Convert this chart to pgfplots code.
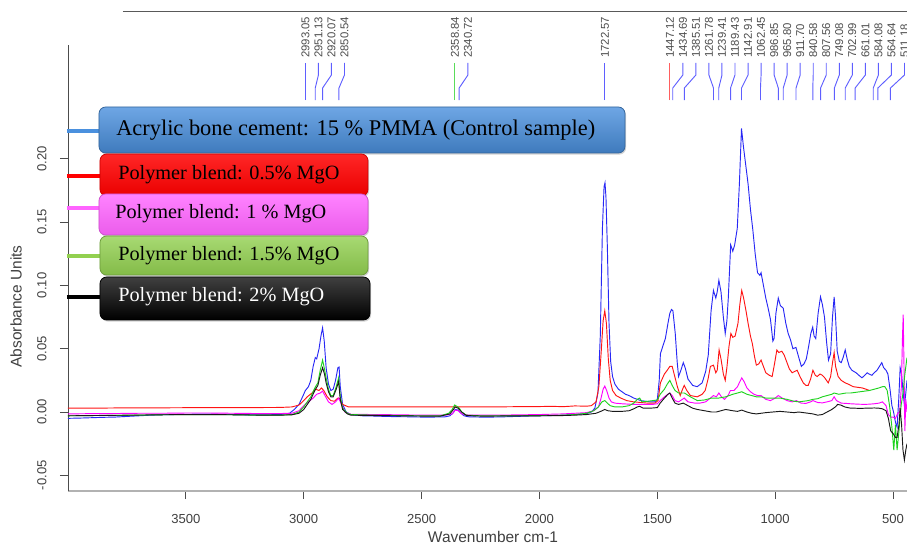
\documentclass[border=0pt]{standalone}
\usepackage{fontspec}
\setmainfont{Liberation Sans}
\newfontfamily\tnr{Liberation Serif}
\usepackage{pgfplots}
\pgfplotsset{compat=1.18}
\usetikzlibrary{shadows}

\definecolor{specblue}{RGB}{40,40,245}
\definecolor{specred}{RGB}{255,20,20}
\definecolor{specmag}{RGB}{255,0,255}
\definecolor{specgreen}{RGB}{30,210,30}
\definecolor{specblack}{RGB}{25,25,25}
\definecolor{pkblue}{RGB}{95,95,255}
\definecolor{pkred}{RGB}{255,95,95}
\definecolor{pkgreen}{RGB}{90,220,90}
\definecolor{legblue}{RGB}{74,144,222}
\definecolor{leggreen}{RGB}{146,208,80}
\definecolor{legmag}{RGB}{255,100,255}

\newcommand{\pkfont}{\fontsize{8.5}{9}\selectfont}
% peak marker: #1 peak, #2 label position, #3 colour
\newcommand{\pk}[3]{%
  \draw[#3, line width=0.7pt] (axis cs:#1,0.2464) -- (axis cs:#1,0.2559)
     -- (axis cs:#2,0.2662) -- (axis cs:#2,0.2757);
  \node[rotate=90, anchor=west, inner sep=0pt, font=\pkfont, text=black!70]
     at (axis cs:#2,0.2796) {#1};
}

\begin{document}
\begin{tikzpicture}
\begin{axis}[
  at={(0,0)}, anchor=south west,
  scale only axis, width=629.25pt, height=334.5pt,
  x dir=reverse, xmin=441, xmax=4000, ymin=-0.0624, ymax=0.2899,
  axis x line*=bottom, axis y line*=left,
  x axis line style={draw=black!30, line width=1.5pt},
  y axis line style={draw=black!70, line width=0.7pt},
  clip=false,
  tick align=outside, major tick length=6pt,
  every tick/.style={draw=black!70, line width=0.6pt},
  xtick={500,1000,1500,2000,2500,3000,3500},
  xticklabels={500,1000,1500,2000,2500,3000,3500},
  ytick={-0.05,0,0.05,0.1,0.15,0.2},
  yticklabels={-0.05,0.00,0.05,0.10,0.15,0.20},
  /pgf/number format/assume math mode=true,
  ticklabel style={font=\fontsize{9.8}{10}\selectfont, text=black!75},
  yticklabel style={rotate=90, anchor=south, inner sep=0pt},
  xticklabel style={anchor=north, inner sep=0pt},
  yticklabel shift=10pt, xticklabel shift=11pt,
  xlabel={Wavenumber cm-1}, ylabel={Absorbance Units},
  label style={font=\fontsize{11.6}{12}\selectfont, text=black!75},
  xlabel style={at={(axis description cs:0.5066,-0.1031)}, anchor=center},
  ylabel style={at={(axis description cs:-0.0620,0.414)}, anchor=center},
]
% control sample
\addplot[specblue, line width=0.7pt] coordinates {
(4000,-0.0050)(3950,-0.0048)(3900,-0.0045)(3850,-0.0042)(3800,-0.0040)(3750,-0.0035)
(3700,-0.0030)(3650,-0.0025)(3600,-0.0022)(3550,-0.0020)(3500,-0.0018)(3450,-0.0017)
(3400,-0.0016)(3350,-0.0018)(3300,-0.0020)(3250,-0.0022)(3200,-0.0022)(3150,-0.0022)
(3100,-0.0020)(3060,-0.0010)(3040,0.0020)(3020,0.0060)(3005,0.0120)(2993,0.0170)
(2980,0.0200)(2970,0.0250)(2960,0.0360)(2951,0.0430)(2945,0.0420)(2935,0.0500)
(2927,0.0600)(2920,0.0665)(2913,0.0560)(2905,0.0350)(2895,0.0220)(2885,0.0170)
(2875,0.0180)(2865,0.0250)(2855,0.0350)(2850,0.0355)(2845,0.0200)(2835,0.0060)
(2820,0.0000)(2800,-0.0020)(2750,-0.0030)(2700,-0.0032)(2650,-0.0035)(2600,-0.0037)
(2550,-0.0038)(2500,-0.0040)(2450,-0.0040)(2400,-0.0038)(2380,-0.0030)(2365,-0.0005)
(2358,0.0020)(2345,0.0015)(2335,-0.0005)(2320,-0.0030)(2300,-0.0038)(2250,-0.0040)
(2200,-0.0040)(2150,-0.0038)(2100,-0.0035)(2050,-0.0032)(2000,-0.0030)(1950,-0.0028)
(1900,-0.0025)(1850,-0.0020)(1800,-0.0012)(1780,0.0000)(1765,0.0030)(1752,0.0150)
(1742,0.0600)(1733,0.1450)(1726,0.1780)(1722,0.1810)(1718,0.1700)(1712,0.1300)
(1705,0.0700)(1698,0.0400)(1690,0.0280)(1680,0.0220)(1665,0.0180)(1650,0.0160)
(1635,0.0140)(1620,0.0130)(1600,0.0110)(1585,0.0100)(1570,0.0090)(1550,0.0085)
(1530,0.0080)(1510,0.0080)(1500,0.0100)(1492,0.0250)(1487,0.0460)(1475,0.0530)
(1466,0.0580)(1455,0.0700)(1447,0.0780)(1440,0.0810)(1434,0.0800)(1424,0.0620)
(1416,0.0400)(1410,0.0280)(1400,0.0330)(1390,0.0390)(1382,0.0350)(1370,0.0260)
(1350,0.0210)(1331,0.0200)(1310,0.0230)(1295,0.0320)(1284,0.0450)(1272,0.0800)
(1262,0.0960)(1252,0.0900)(1246,0.0950)(1239,0.1040)(1230,0.0950)(1220,0.0750)
(1212,0.0620)(1205,0.0720)(1199,0.0900)(1189,0.1320)(1180,0.1270)(1172,0.1320)
(1161,0.1450)(1152,0.1800)(1143,0.2240)(1135,0.2100)(1125,0.1950)(1115,0.1800)
(1105,0.1600)(1095,0.1440)(1085,0.1250)(1075,0.1100)(1065,0.1080)(1060,0.1100)
(1050,0.1000)(1040,0.0900)(1030,0.0820)(1020,0.0730)(1010,0.0560)(1005,0.0580)
(997,0.0780)(987,0.0900)(978,0.0840)(966,0.0820)(955,0.0700)(945,0.0620)
(935,0.0570)(925,0.0500)(912,0.0510)(900,0.0430)(889,0.0360)(878,0.0380)
(868,0.0420)(858,0.0520)(849,0.0620)(841,0.0670)(835,0.0600)(828,0.0580)
(818,0.0780)(808,0.0910)(800,0.0850)(791,0.0750)(782,0.0550)(774,0.0410)
(765,0.0460)(757,0.0750)(750,0.0910)(744,0.0750)(737,0.0480)(728,0.0400)
(720,0.0390)(712,0.0430)(703,0.0490)(695,0.0420)(686,0.0360)(675,0.0330)
(657,0.0310)(645,0.0290)(632,0.0270)(620,0.0290)(610,0.0310)(602,0.0300)
(590,0.0290)(580,0.0310)(568,0.0330)(558,0.0360)(548,0.0390)(540,0.0350)
(530,0.0330)(522,0.0300)(513,0.0180)(505,0.0050)(498,0.0000)(490,-0.0080)
(483,-0.0120)(476,0.0100)(470,0.0350)(464,0.0300)(458,0.0170)(452,0.0050)
(446,0.0150)(441,0.0250)};
% 0.5% MgO
\addplot[specred, line width=0.7pt] coordinates {
(4000,0.0030)(3900,0.0030)(3800,0.0032)(3700,0.0033)(3600,0.0033)(3500,0.0034)
(3400,0.0034)(3300,0.0035)(3200,0.0035)(3100,0.0036)(3050,0.0040)(3020,0.0055)
(3000,0.0090)(2985,0.0120)(2965,0.0150)(2950,0.0180)(2935,0.0170)(2925,0.0190)
(2915,0.0170)(2900,0.0120)(2885,0.0090)(2870,0.0085)(2855,0.0110)(2848,0.0105)
(2835,0.0060)(2810,0.0040)(2700,0.0040)(2600,0.0040)(2500,0.0040)(2400,0.0040)
(2300,0.0040)(2200,0.0040)(2100,0.0042)(2000,0.0043)(1950,0.0045)(1900,0.0042)
(1850,0.0048)(1800,0.0046)(1780,0.0050)(1760,0.0080)(1748,0.0200)(1738,0.0480)
(1730,0.0720)(1723,0.0800)(1716,0.0700)(1708,0.0420)(1700,0.0250)(1690,0.0170)
(1675,0.0130)(1655,0.0110)(1630,0.0090)(1600,0.0080)(1570,0.0075)(1540,0.0070)
(1510,0.0070)(1497,0.0090)(1487,0.0230)(1470,0.0300)(1458,0.0330)(1447,0.0360)
(1437,0.0360)(1426,0.0280)(1415,0.0200)(1403,0.0130)(1393,0.0180)(1386,0.0210)
(1375,0.0170)(1360,0.0130)(1331,0.0120)(1310,0.0140)(1297,0.0170)(1285,0.0260)
(1275,0.0360)(1262,0.0370)(1252,0.0310)(1246,0.0330)(1238,0.0490)(1230,0.0420)
(1220,0.0300)(1212,0.0250)(1205,0.0350)(1196,0.0520)(1188,0.0620)(1180,0.0590)
(1170,0.0600)(1158,0.0700)(1150,0.0850)(1142,0.0960)(1134,0.0900)(1124,0.0800)
(1115,0.0700)(1105,0.0600)(1097,0.0540)(1088,0.0440)(1080,0.0370)(1070,0.0380)
(1060,0.0410)(1050,0.0360)(1040,0.0310)(1025,0.0290)(1013,0.0280)(1003,0.0380)
(993,0.0490)(985,0.0470)(972,0.0480)(962,0.0450)(950,0.0390)(940,0.0340)
(928,0.0310)(918,0.0320)(907,0.0330)(895,0.0280)(881,0.0230)(870,0.0210)
(860,0.0210)(850,0.0260)(840,0.0330)(830,0.0290)(822,0.0280)(810,0.0300)
(800,0.0290)(790,0.0270)(775,0.0230)(765,0.0280)(756,0.0400)(750,0.0470)
(744,0.0360)(733,0.0280)(720,0.0250)(703,0.0230)(690,0.0220)(669,0.0200)
(650,0.0195)(631,0.0190)(615,0.0180)(600,0.0170)};
% 1% MgO
\addplot[specmag, line width=0.7pt] coordinates {
(4000,-0.0015)(3900,-0.0013)(3800,-0.0012)(3700,-0.0010)(3600,-0.0010)(3500,-0.0008)
(3400,-0.0008)(3300,-0.0010)(3200,-0.0012)(3100,-0.0012)(3050,-0.0010)(3020,0.0010)
(3000,0.0050)(2980,0.0080)(2960,0.0110)(2945,0.0140)(2930,0.0150)(2920,0.0165)
(2910,0.0130)(2895,0.0080)(2880,0.0060)(2865,0.0080)(2852,0.0110)(2840,0.0060)
(2825,0.0000)(2800,-0.0018)(2700,-0.0020)(2600,-0.0022)(2500,-0.0025)(2400,-0.0025)
(2370,-0.0015)(2358,0.0015)(2345,0.0010)(2330,-0.0015)(2300,-0.0025)(2200,-0.0025)
(2100,-0.0023)(2000,-0.0020)(1900,-0.0015)(1850,-0.0010)(1800,-0.0005)(1770,0.0010)
(1750,0.0040)(1740,0.0100)(1730,0.0180)(1723,0.0205)(1715,0.0170)(1705,0.0110)
(1695,0.0080)(1680,0.0070)(1650,0.0065)(1600,0.0060)(1560,0.0060)(1520,0.0060)
(1500,0.0065)(1488,0.0090)(1470,0.0120)(1455,0.0140)(1447,0.0150)(1437,0.0130)
(1425,0.0090)(1410,0.0080)(1386,0.0110)(1370,0.0080)(1340,0.0070)(1320,0.0070)
(1295,0.0080)(1275,0.0110)(1262,0.0130)(1250,0.0120)(1239,0.0150)(1228,0.0120)
(1215,0.0100)(1200,0.0130)(1190,0.0170)(1175,0.0170)(1160,0.0200)(1150,0.0240)
(1142,0.0270)(1132,0.0240)(1120,0.0190)(1105,0.0160)(1090,0.0140)(1075,0.0130)
(1060,0.0130)(1040,0.0100)(1020,0.0090)(1000,0.0110)(987,0.0130)(970,0.0110)
(950,0.0090)(928,0.0080)(910,0.0090)(890,0.0070)(870,0.0068)(850,0.0080)
(840,0.0090)(820,0.0075)(800,0.0072)(780,0.0080)(760,0.0090)(750,0.0120)
(740,0.0090)(720,0.0070)(700,0.0068)(680,0.0065)(650,0.0062)(620,0.0060)
(600,0.0062)(580,0.0065)(560,0.0070)(545,0.0080)(530,0.0050)(520,-0.0020)
(510,-0.0040)(500,-0.0040)(490,-0.0050)(480,-0.0010)(472,0.0000)(465,0.0200)
(460,0.0600)(457,0.0770)(454,0.0400)(450,-0.0150)(446,0.0100)(441,0.0000)};
% 1.5% MgO
\addplot[specgreen, line width=0.7pt] coordinates {
(4000,-0.0030)(3900,-0.0028)(3800,-0.0027)(3700,-0.0025)(3600,-0.0022)(3500,-0.0020)
(3400,-0.0020)(3300,-0.0022)(3200,-0.0025)(3100,-0.0025)(3050,-0.0020)(3020,0.0000)
(3000,0.0040)(2985,0.0080)(2970,0.0120)(2958,0.0170)(2950,0.0200)(2940,0.0230)
(2930,0.0330)(2920,0.0410)(2912,0.0340)(2905,0.0270)(2895,0.0180)(2885,0.0130)
(2875,0.0130)(2862,0.0200)(2852,0.0270)(2845,0.0120)(2835,0.0030)(2815,-0.0010)
(2800,-0.0020)(2700,-0.0025)(2600,-0.0028)(2500,-0.0030)(2420,-0.0030)(2385,-0.0010)
(2370,0.0020)(2360,0.0055)(2350,0.0045)(2340,0.0030)(2330,0.0000)(2310,-0.0025)
(2250,-0.0030)(2200,-0.0030)(2100,-0.0030)(2000,-0.0028)(1900,-0.0025)(1850,-0.0020)
(1800,-0.0010)(1770,0.0010)(1750,0.0040)(1735,0.0080)(1723,0.0090)(1712,0.0070)
(1700,0.0050)(1680,0.0040)(1650,0.0040)(1620,0.0050)(1600,0.0070)(1585,0.0100)
(1575,0.0110)(1565,0.0080)(1540,0.0085)(1520,0.0090)(1500,0.0095)(1488,0.0140)
(1470,0.0180)(1458,0.0220)(1447,0.0250)(1437,0.0210)(1425,0.0170)(1410,0.0150)
(1385,0.0150)(1360,0.0120)(1330,0.0090)(1300,0.0095)(1270,0.0110)(1240,0.0110)
(1210,0.0120)(1180,0.0140)(1160,0.0150)(1142,0.0160)(1120,0.0140)(1100,0.0130)
(1080,0.0120)(1060,0.0120)(1040,0.0110)(1010,0.0110)(980,0.0110)(950,0.0100)
(920,0.0085)(900,0.0080)(880,0.0085)(860,0.0090)(840,0.0100)(820,0.0105)
(800,0.0120)(780,0.0130)(760,0.0140)(750,0.0150)(730,0.0140)(700,0.0150)
(680,0.0150)(660,0.0155)(640,0.0160)(620,0.0165)(600,0.0170)(580,0.0180)
(560,0.0190)(545,0.0200)(535,0.0200)(525,0.0170)(515,0.0050)(505,-0.0120)
(497,-0.0300)(490,-0.0100)(483,-0.0300)(475,-0.0150)(466,0.0050)(458,0.0150)
(450,0.0300)(441,0.0430)};
% 2% MgO
\addplot[specblack, line width=0.7pt] coordinates {
(4000,-0.0030)(3900,-0.0028)(3800,-0.0026)(3700,-0.0024)(3600,-0.0022)(3500,-0.0020)
(3400,-0.0020)(3300,-0.0022)(3200,-0.0024)(3100,-0.0025)(3050,-0.0022)(3020,-0.0010)
(3000,0.0020)(2985,0.0060)(2970,0.0100)(2958,0.0150)(2950,0.0180)(2940,0.0210)
(2930,0.0290)(2920,0.0350)(2912,0.0300)(2905,0.0230)(2895,0.0160)(2885,0.0120)
(2875,0.0120)(2862,0.0180)(2852,0.0240)(2845,0.0100)(2835,0.0020)(2815,-0.0015)
(2800,-0.0025)(2700,-0.0028)(2600,-0.0030)(2500,-0.0032)(2420,-0.0032)(2380,-0.0015)
(2365,0.0020)(2358,0.0040)(2345,0.0030)(2330,0.0000)(2310,-0.0028)(2250,-0.0032)
(2200,-0.0032)(2100,-0.0030)(2000,-0.0030)(1900,-0.0028)(1850,-0.0025)(1800,-0.0020)
(1760,-0.0010)(1740,0.0005)(1723,0.0020)(1710,0.0010)(1690,0.0005)(1650,0.0005)
(1620,0.0010)(1600,0.0025)(1585,0.0040)(1575,0.0045)(1560,0.0030)(1530,0.0030)
(1500,0.0035)(1488,0.0070)(1470,0.0110)(1455,0.0140)(1447,0.0150)(1437,0.0110)
(1425,0.0070)(1410,0.0060)(1390,0.0070)(1370,0.0050)(1350,0.0030)(1330,0.0020)
(1300,0.0010)(1270,0.0000)(1250,0.0000)(1230,0.0010)(1210,0.0020)(1195,0.0015)
(1180,0.0010)(1160,0.0005)(1142,0.0015)(1120,0.0000)(1100,-0.0010)(1080,-0.0015)
(1060,-0.0010)(1040,-0.0005)(1010,0.0000)(980,0.0005)(950,0.0000)(920,-0.0005)
(900,0.0000)(880,-0.0005)(860,-0.0010)(840,-0.0015)(820,-0.0025)(800,-0.0020)
(780,0.0000)(760,0.0020)(745,0.0040)(735,0.0060)(722,0.0055)(705,0.0040)
(680,0.0030)(660,0.0030)(640,0.0028)(620,0.0030)(600,0.0030)(580,0.0032)
(560,0.0030)(545,0.0025)(530,0.0010)(520,-0.0050)(510,-0.0150)(500,-0.0170)
(490,-0.0200)(483,-0.0200)(475,-0.0100)(470,0.0030)(464,-0.0100)(458,-0.0300)
(452,-0.0380)(446,-0.0300)(441,-0.0250)};

% peak picking marks
\pk{2993.05}{2993.05}{pkblue}
\pk{2951.13}{2937.75}{pkblue}
\pk{2920.07}{2882.45}{pkblue}
\pk{2850.54}{2827.15}{pkblue}
\pk{2358.84}{2358.84}{pkgreen}
\pk{2340.72}{2303.5}{pkblue}
\pk{1722.57}{1722.57}{pkblue}
\pk{1447.12}{1447.12}{pkred}
\pk{1434.69}{1391.8}{pkblue}
\pk{1385.51}{1336.5}{pkblue}
\pk{1261.78}{1281.2}{pkblue}
\pk{1239.41}{1225.9}{pkblue}
\pk{1189.43}{1170.6}{pkblue}
\pk{1142.91}{1115.3}{pkblue}
\pk{1062.45}{1060.0}{pkblue}
\pk{986.85}{1004.7}{pkblue}
\pk{965.80}{949.4}{pkblue}
\pk{911.70}{894.1}{pkblue}
\pk{840.58}{838.8}{pkblue}
\pk{807.56}{783.5}{pkblue}
\pk{749.08}{728.2}{pkblue}
\pk{702.99}{672.9}{pkblue}
\pk{661.01}{617.6}{pkblue}
\pk{584.08}{562.3}{pkblue}
\pk{564.64}{507.0}{pkblue}
\pk{511.18}{451.7}{pkblue}
\draw[black!65, line width=0.6pt] (axis cs:3767,0.3167) -- (axis cs:430,0.3167);
\end{axis}

% legend boxes, in pixel units of the reference
\begin{scope}[shift={(-51pt,368.25pt)}, x=0.75pt, y=-0.75pt]
\draw[legblue, line width=2.4pt] (67,131) -- (100,131);
\draw[red, line width=2.4pt] (67,176) -- (100,176);
\draw[legmag, line width=2.4pt] (67,208) -- (100,208);
\draw[leggreen, line width=2.4pt] (67,256) -- (100,256);
\draw[black, line width=2.4pt] (67,297) -- (100,297);

\path[rounded corners=5pt, drop shadow={opacity=0.35,shadow xshift=0.8pt,shadow yshift=-1.2pt},
  top color=legblue!80!white, bottom color=legblue!85!black, draw=legblue!70!black, line width=0.6pt]
  (99,107) rectangle (625,153);
\node[anchor=west, inner sep=0pt, font=\tnr\fontsize{16.8}{18}\selectfont] at (116,130)
  {Acrylic bone cement: 15 \% PMMA (Control sample)};

\path[rounded corners=5pt, drop shadow={opacity=0.35,shadow xshift=0.8pt,shadow yshift=-1.2pt},
  top color=red!85!white, bottom color=red!92!black, draw=red!80!black, line width=0.6pt]
  (100,154) rectangle (368,196);
\node[anchor=west, inner sep=0pt, font=\tnr\fontsize{15.2}{17}\selectfont] at (118,175)
  {Polymer blend: 0.5\% MgO};

\path[rounded corners=5pt, drop shadow={opacity=0.35,shadow xshift=0.8pt,shadow yshift=-1.2pt},
  top color=legmag!80!white, bottom color=legmag!92!black, draw=legmag!80!black, line width=0.6pt]
  (99,194) rectangle (368,235);
\node[anchor=west, inner sep=0pt, font=\tnr\fontsize{15.2}{17}\selectfont] at (115,214)
  {Polymer blend: 1 \% MgO};

\path[rounded corners=5pt, drop shadow={opacity=0.35,shadow xshift=0.8pt,shadow yshift=-1.2pt},
  top color=leggreen!80!white, bottom color=leggreen!90!black, draw=leggreen!75!black, line width=0.6pt]
  (100,236) rectangle (368,275);
\node[anchor=west, inner sep=0pt, font=\tnr\fontsize{15.2}{17}\selectfont] at (118,256)
  {Polymer blend: 1.5\% MgO};

\path[rounded corners=5pt, drop shadow={opacity=0.35,shadow xshift=0.8pt,shadow yshift=-1.2pt},
  top color=black!75, bottom color=black, draw=black, line width=0.6pt]
  (100,277) rectangle (370,320);
\node[anchor=west, inner sep=0pt, text=white, font=\tnr\fontsize{15.2}{17}\selectfont] at (118,297)
  {Polymer blend: 2\% MgO};
\end{scope}

\pgfresetboundingbox
\path[use as bounding box] (-51pt,-41.25pt) rectangle (629.25pt,368.25pt);
\end{tikzpicture}
\end{document}
